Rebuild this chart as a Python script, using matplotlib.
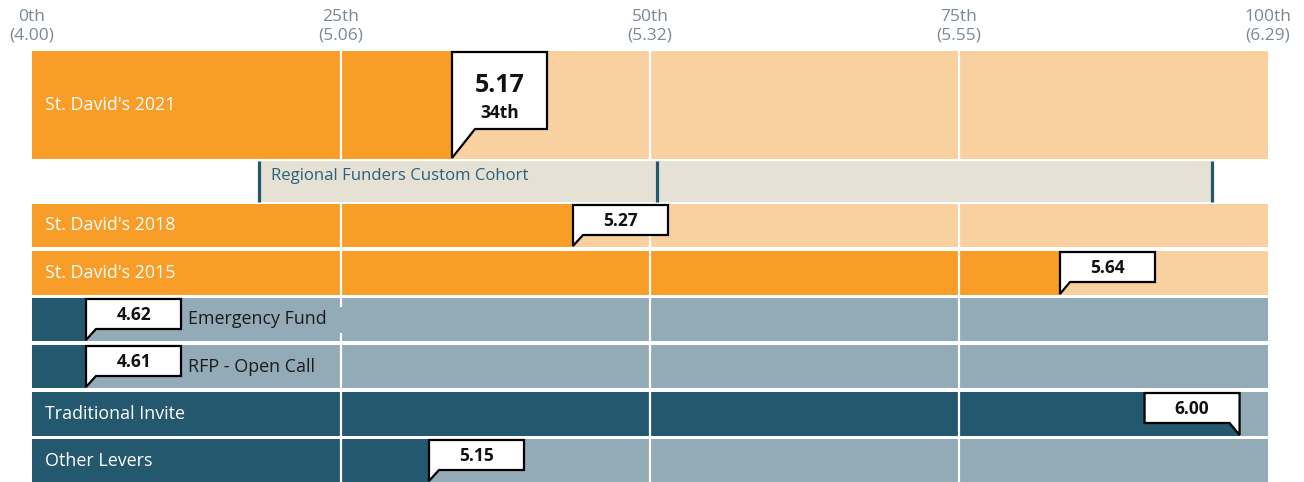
import matplotlib
matplotlib.use("Agg")
import matplotlib.pyplot as plt
from matplotlib.patches import Rectangle, Polygon

plt.rcParams['font.family'] = ['Open Sans', 'DejaVu Sans']

# data
row_labels = ["St. David's 2021", "St. David's 2018", "St. David's 2015",
              "Emergency Fund", "RFP - Open Call", "Traditional Invite", "Other Levers"]
scores = ["5.17", "5.27", "5.64", "4.62", "4.61", "6.00", "5.15"]
percentiles = [34.0, 43.8, 83.2, 4.4, 4.4, 97.7, 32.1]
groups = ["org", "org", "org", "lever", "lever", "lever", "lever"]

tick_pcts = [0, 25, 50, 75, 100]
tick_vals = ["4.00", "5.06", "5.32", "5.55", "6.29"]

cohort_label = "Regional Funders Custom Cohort"
cohort_low, cohort_med, cohort_high = 18.4, 50.6, 95.5

# layout (pixels)
W, H = 1304, 482
X0, X1 = 32, 1268
P = 100.0 / (X1 - X0)          # percentile per pixel
row_tops = [51, 204, 251, 298, 345, 392, 439]
row_bots = [159, 247, 295, 341, 388, 436, 482]
cohort_top, cohort_bot = 161, 202

dark = {"org": "#F89D28", "lever": "#24586F"}
light = {"org": "#F9D09F", "lever": "#93AAB7"}


def px(v):
    return v * P


fig = plt.figure(figsize=(W / 100, H / 100), dpi=100)
ax = fig.add_axes([0, 0, 1, 1])
ax.set_xlim(-X0 * P, (W - X0) * P)
ax.set_ylim(H, 0)
ax.axis("off")

# axis labels on top
for p, v in zip(tick_pcts, tick_vals):
    ax.text(p, 17, f"{p}th", ha="center", va="center", fontsize=12.5, color="#7B8893")
    ax.text(p, 36, f"({v})", ha="center", va="center", fontsize=12.5, color="#7B8893")


def callout(x, top, bot, text, big=False, sub=None):
    w = px(95)
    if big:
        bb = top + 78
        d = px(23)
    else:
        bb = top + 31
        d = px(10)
    top = top + 1
    tip = bot - 1
    if x + w <= 100:
        pts = [(x, tip), (x, top), (x + w, top), (x + w, bb), (x + d, bb)]
        cx = x + w / 2
    else:
        pts = [(x, tip), (x - d, bb), (x - w, bb), (x - w, top), (x, top)]
        cx = x - w / 2
    ax.add_patch(Polygon(pts, closed=True, facecolor="white", edgecolor="black",
                         lw=1.6, joinstyle="miter", zorder=5))
    if big:
        ax.text(cx, top + 33, text, ha="center", va="center", fontsize=18,
                fontweight="bold", color="#111111", zorder=6)
        ax.text(cx, top + 61, sub, ha="center", va="center", fontsize=12.5,
                fontweight="bold", color="#111111", zorder=6)
    else:
        ax.text(cx, (top + bb) / 2 + 1, text, ha="center", va="center", fontsize=12.5,
                fontweight="bold", color="#111111", zorder=6)
    return x + w


for i, lab in enumerate(row_labels):
    t, b = row_tops[i], row_bots[i]
    g = groups[i]
    ax.add_patch(Rectangle((0, t), 100, b - t, facecolor=light[g], lw=0, zorder=1))
    ax.add_patch(Rectangle((0, t), percentiles[i], b - t, facecolor=dark[g], lw=0, zorder=2))
    ax.vlines([25, 50, 75], t, b, colors="white", lw=1.6, zorder=3)
    right = callout(percentiles[i], t, b, scores[i], big=(i == 0),
                    sub=f"{round(percentiles[i])}th")
    ymid = (t + b) / 2
    if percentiles[i] < 10:
        lx = right + px(7)
        if i == 3:
            # label box in the reference hides part of the 25th gridline
            ax.add_patch(Rectangle((lx - px(2), t + 9), px(345 - 186) - (lx - px(188 - X0)), 26,
                                   facecolor=light[g], lw=0, zorder=4))
        ax.text(lx, ymid, lab, ha="left", va="center", fontsize=12.9,
                color="#1B1B1B", zorder=6)
    else:
        ax.text(px(13), ymid, lab, ha="left", va="center", fontsize=12.9,
                color="white", zorder=4)

# cohort band
ax.add_patch(Rectangle((cohort_low, cohort_top), cohort_high - cohort_low,
                       cohort_bot - cohort_top, facecolor="#E5E1D5", lw=0, zorder=1))
ax.vlines([cohort_low, cohort_med, cohort_high], cohort_top, cohort_bot,
          colors="#24586F", lw=2.3, zorder=2)
ax.text(cohort_low + px(12), 176, cohort_label, ha="left", va="center",
        fontsize=12.1, color="#2E6079", zorder=3)

fig.savefig("out.png", dpi=100)
